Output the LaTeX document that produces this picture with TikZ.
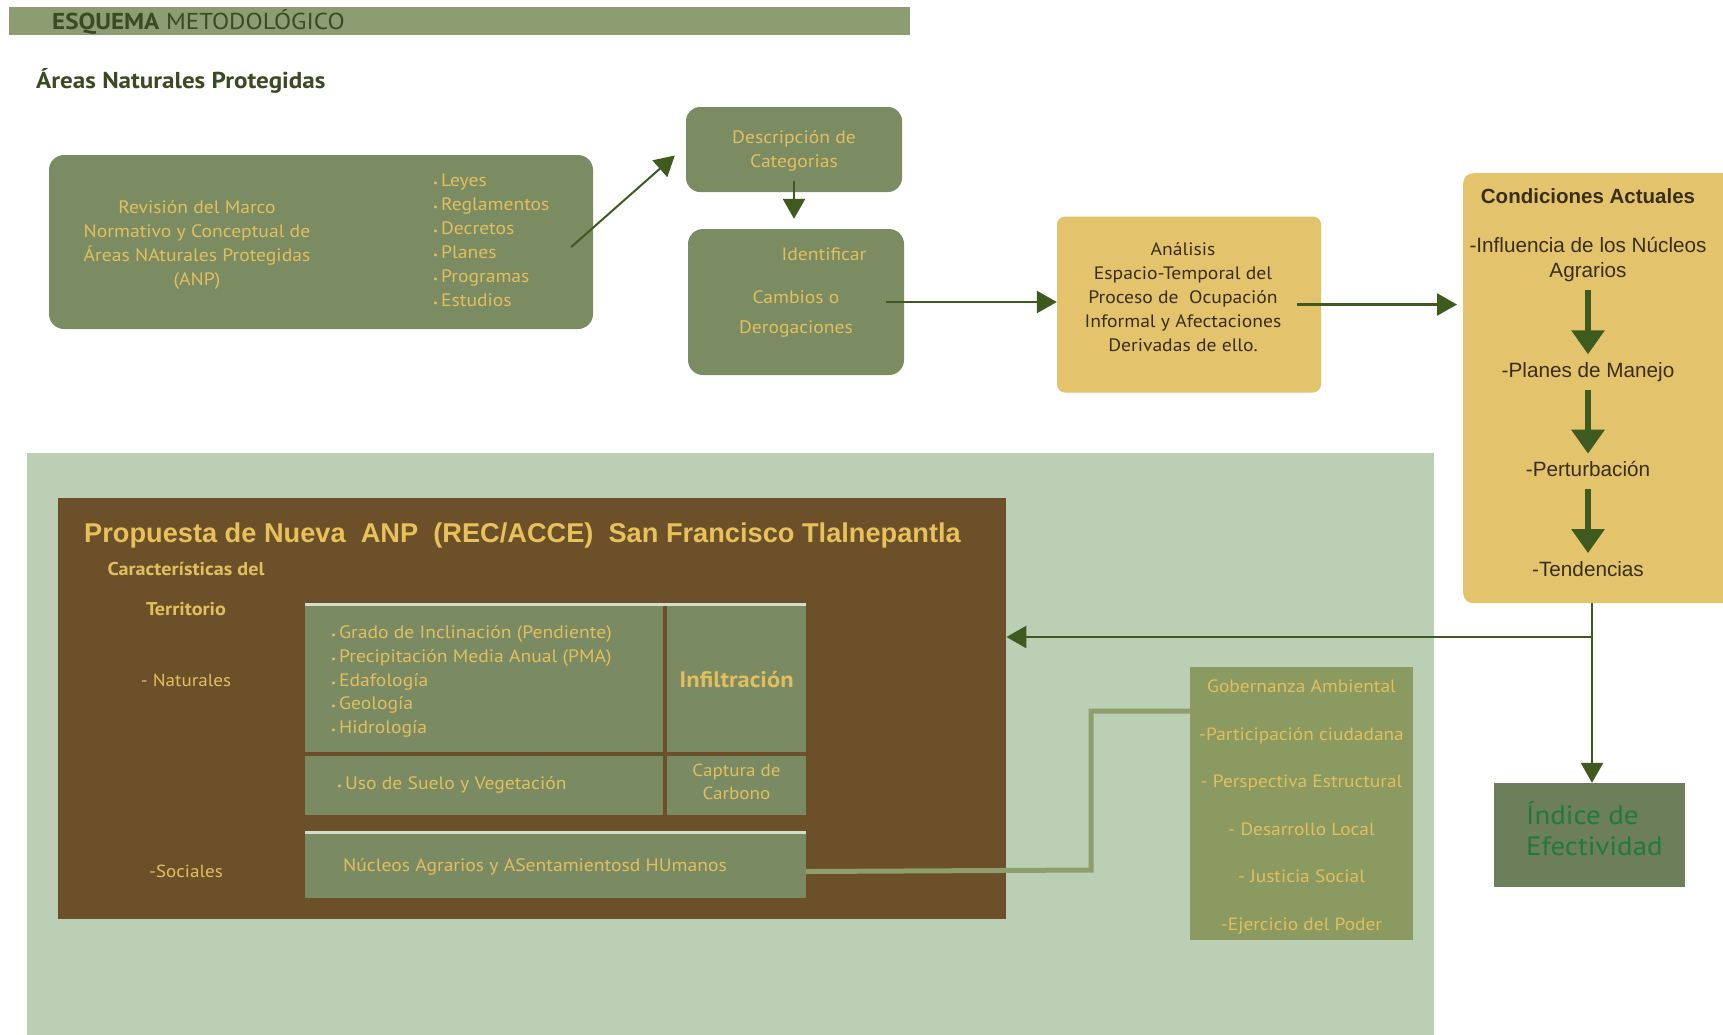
\documentclass[tikz,border=0pt]{standalone}
\usepackage{fontspec}
\setmainfont{PT Sans}[FakeStretch=1.09]
\newfontfamily\arialfont{Liberation Sans}
\usepackage{tikz}
\usetikzlibrary{arrows.meta,positioning}
\definecolor{esbar}{HTML}{8E9C72}
\definecolor{esdark}{HTML}{3A4A22}
\definecolor{esolive}{HTML}{7B8C62}
\definecolor{esgold}{HTML}{E2BF5E}
\definecolor{estitle}{HTML}{E8C15A}
\definecolor{esgoldbox}{HTML}{E4C36D}
\definecolor{esbrowntext}{HTML}{3A2E16}
\definecolor{espanel}{HTML}{BACFB3}
\definecolor{esbrown}{HTML}{6B5029}
\definecolor{esinner}{HTML}{7A8A62}
\definecolor{esgob}{HTML}{8A9A60}
\definecolor{esindex}{HTML}{6D7E5A}
\definecolor{esgreen}{HTML}{1F7A3C}
\definecolor{esarrow}{HTML}{3F5A1F}
\definecolor{esline}{HTML}{D3DDC9}
\definecolor{eslink}{HTML}{8E9E6C}
\newcommand{\esbul}{{\fontsize{10}{10}\selectfont\textbullet}\,}
\tikzset{
  olivebox/.style={fill=esolive,rounded corners=15pt,inner sep=0pt},
  goldtext/.style={text=esgold,align=center,inner sep=0pt,font=\fontsize{18}{24}\selectfont},
  goldbox/.style={fill=esgoldbox,rounded corners=8pt,inner sep=0pt},
  cell/.style={fill=esinner,inner sep=0pt},
  celltext/.style={text=esgold,inner sep=0pt,font=\fontsize{18}{23.8}\selectfont},
  condtext/.style={text=esbrowntext,font=\arialfont\fontsize{20.7}{25}\selectfont,align=center,
    inner sep=0pt},
  condline/.style={condtext,text height=15pt,text depth=4pt},
  flow/.style={-{Triangle[length=20pt,width=22pt]},line width=2.5pt,draw=esarrow},
  bigflow/.style={-{Triangle[length=24pt,width=32pt]},line width=6pt,draw=esarrow,
    shorten <=8pt,shorten >=8pt},
  link/.style={draw=eslink,line width=5pt}
}
\begin{document}
\begin{tikzpicture}[x=1pt,y=-1pt]
  \path[use as bounding box,clip] (0,0) rectangle (1723,1034);
  \fill[white] (0,0) rectangle (1723,1034);
  % cabecera
  \node[fill=esbar,minimum width=901pt,minimum height=28pt,inner sep=0pt] (bar) at (459.5,21) {};
  \node[anchor=west,text=esdark,inner sep=0pt,font=\fontsize{23}{23}\selectfont] (bartxt) at (52,22)
    {\textbf{ESQUEMA} METODOLÓGICO};
  \node[anchor=west,text=esdark,inner sep=0pt,font=\bfseries\fontsize{23}{23}\selectfont] (anp) at (36,81)
    {Áreas Naturales Protegidas};

  % marco normativo
  \node[olivebox,minimum width=544pt,minimum height=174pt] (rev) at (321,242) {};
  \node[goldtext] (revtxt) at (197,244.5)
    {Revisión del Marco\\Normativo y Conceptual de\\Áreas NAturales Protegidas\\(ANP)};
  \node[goldtext,anchor=west,align=left] (revlist) at (433,240)
    {\esbul Leyes\\\esbul Reglamentos\\\esbul Decretos\\\esbul Planes\\\esbul Programas\\\esbul Estudios};
  \node[olivebox,minimum width=216pt,minimum height=85pt,rounded corners=14pt] (desc) at (794,149.5) {};
  \node[goldtext] (desctxt) at (794,150.5) {Descripción de\\Categorias};
  \node[olivebox,minimum width=216pt,minimum height=146pt] (ident) at (796,302) {};
  \node[goldtext] (identtxt) at (796,292.5)
    {\hspace*{56pt}Identificar\\[19pt]Cambios o\\[6pt]Derogaciones};

  % analisis y condiciones
  \node[goldbox,minimum width=264pt,minimum height=176pt] (anal) at (1189,304.5) {};
  \node[goldtext,text=esbrowntext] (analtxt) at (1183,297)
    {Análisis\\Espacio-Temporal del\\Proceso de~~Ocupación\\Informal y Afectaciones\\Derivadas de ello.};
  \node[goldbox,rounded corners=10pt,minimum width=280pt,minimum height=430pt,anchor=north west]
    (cond) at (1463,173) {};
  \node[condline,font=\arialfont\bfseries\fontsize{20.5}{25}\selectfont] (condt) at (1588,198)
    {Condiciones Actuales};
  \node[condtext] (c1) at (1588,260) {-Influencia de los Núcleos\\Agrarios};
  \node[condline] (c2) at (1588,372) {-Planes de Manejo};
  \node[condline,below=80pt of c2] (c3) {-Perturbación};
  \node[condline,below=80pt of c3] (c4) {-Tendencias};
  \draw[bigflow] (c1) -- (c2);
  \draw[bigflow] (c2) -- (c3);
  \draw[bigflow] (c3) -- (c4);

  % propuesta
  \node[fill=espanel,minimum width=1407pt,minimum height=590pt,inner sep=0pt,anchor=north west]
    (panel) at (27,453) {};
  \node[fill=esbrown,minimum width=948pt,minimum height=421pt,inner sep=0pt,anchor=north west]
    (prop) at (58,498) {};
  \node[anchor=west,text=estitle,inner sep=0pt,font=\arialfont\bfseries\fontsize{27.2}{27}\selectfont]
    (propt) at (84,535) {Propuesta de Nueva\ \ ANP\ \ (REC/ACCE)\ \ San Francisco Tlalnepantla};
  \node[celltext,font=\bfseries\fontsize{18.5}{20}\selectfont] (carac) at (186,569) {Características del};
  \node[celltext,font=\bfseries\fontsize{18.5}{20}\selectfont] (terr) at (186,609) {Territorio};
  \node[celltext,font=\fontsize{17.5}{20}\selectfont] (nat) at (186,680) {- Naturales};
  \node[celltext,font=\fontsize{17.5}{20}\selectfont] (soc) at (186,871) {-Sociales};

  \node[cell,minimum width=358pt,minimum height=147pt] (cellA) at (484,678.5) {};
  \node[cell,minimum width=139pt,minimum height=147pt] (cellB) at (736.5,678.5) {};
  \node[cell,minimum width=358pt,minimum height=59pt] (cellC) at (484,785.5) {};
  \node[cell,minimum width=139pt,minimum height=59pt] (cellD) at (736.5,785.5) {};
  \node[cell,minimum width=501pt,minimum height=65pt] (cellE) at (555.5,865.5) {};
  \draw[esline,line width=3pt] (cellA.north west) -- (cellB.north east);
  \draw[esline,line width=3pt] (cellE.north west) -- (cellE.north east);
  \node[celltext,anchor=west,align=left] (natlist) at (331,681.5)
    {\esbul Grado de Inclinación (Pendiente)\\\esbul Precipitación Media Anual (PMA)\\\esbul Edafología\\\esbul Geología\\\esbul Hidrología};
  \node[celltext,font=\bfseries\fontsize{22.5}{22}\selectfont] (infil) at (736.5,680) {Infiltración};
  \node[celltext,anchor=west] (suelo) at (337,785) {\esbul Uso de Suelo y Vegetación};
  \node[celltext,align=center,font=\fontsize{17.5}{23.5}\selectfont] (carb) at (736.5,782) {Captura de\\Carbono};
  \node[celltext] (nuc) at (535,867) {Núcleos Agrarios y ASentamientosd HUmanos};

  % gobernanza e indice
  \node[fill=esgob,minimum width=223pt,minimum height=273pt,inner sep=0pt] (gob) at (1301.5,803.5) {};
  \node[text=esgold,align=center,inner sep=0pt,font=\fontsize{17.8}{47.6}\selectfont] (gobtxt)
    at (1301.5,807)
    {Gobernanza Ambiental\\-Participación ciudadana\\- Perspectiva Estructural\\- Desarrollo Local\\- Justicia Social\\-Ejercicio del Poder};
  \node[fill=esindex,minimum width=191pt,minimum height=104pt,inner sep=0pt] (idx) at (1589.5,835) {};
  \node[anchor=west,text=esgreen,align=left,inner sep=0pt,font=\fontsize{26.5}{31}\selectfont]
    (idxtxt) at (1526,829) {Índice de\\Efectividad};

  % conectores
  \draw[flow,line width=2pt] ([xshift=-22pt,yshift=-5pt]rev.east) -- ([xshift=-11pt,yshift=-6pt]desc.west);
  \draw[flow] ([yshift=11pt]desc.south) -- ([yshift=10pt]ident.north -| desc.south);
  \draw[flow] ([xshift=-18pt]ident.east) -- (ident.east -| anal.west);
  \draw[flow] ([xshift=-24pt]anal.east) -- ([xshift=-6pt]anal.east -| cond.west);
  \coordinate (junc) at (1592,637);
  \draw[flow] (cond.south -| junc) -- (junc) -- (junc -| prop.east);
  \draw[flow] (junc) -- (junc |- idx.north);
  \coordinate (bend) at (1091,870);
  \draw[link] ([yshift=-6pt]cellE.east) -- (bend) |- ([yshift=92.5pt]gob.west);
\end{tikzpicture}
\end{document}
